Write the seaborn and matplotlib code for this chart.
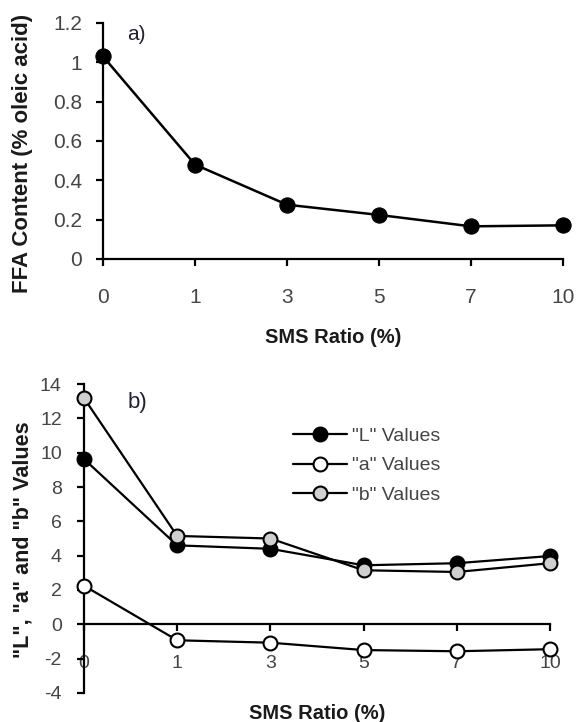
import matplotlib
matplotlib.use("Agg")
import matplotlib.pyplot as plt
import seaborn as sns
import pandas as pd

# SMS ratio categories (equally spaced on the axis)
sms_ratio = ["0", "1", "3", "5", "7", "10"]

# a) free fatty acid content
ffa_content = [1.03, 0.48, 0.276, 0.224, 0.166, 0.171]

# b) colour values
l_values = [9.63, 4.6, 4.4, 3.44, 3.56, 3.98]
a_values = [2.25, -0.93, -1.07, -1.5, -1.57, -1.45]
b_values = [13.18, 5.15, 5.0, 3.15, 3.05, 3.56]

sns.set_theme(style="ticks")
plt.rcParams['font.family'] = ['Liberation Sans', 'DejaVu Sans']
plt.rcParams['axes.unicode_minus'] = False

tick_col = '#454545'
label_col = '#1a1a1a'

fig = plt.figure(figsize=(5.76, 7.22), dpi=100)
ax1 = fig.add_axes([0.1788, 0.6413, 0.7986, 0.3269])
ax2 = fig.add_axes([0.1458, 0.0402, 0.8090, 0.4279])

# ---- panel a ----
df_a = pd.DataFrame({"ratio": sms_ratio, "ffa": ffa_content})
sns.lineplot(data=df_a, x="ratio", y="ffa", ax=ax1, color='black', lw=1.8,
             marker='o', markersize=11, markerfacecolor='black',
             markeredgecolor='black', clip_on=False, zorder=3)
ax1.set_xlim(0, 5)
ax1.set_ylim(0, 1.2)
ax1.set_yticks([0, 0.2, 0.4, 0.6, 0.8, 1.0, 1.2])
ax1.set_yticklabels(["0", "0.2", "0.4", "0.6", "0.8", "1", "1.2"])
ax1.tick_params(axis='x', direction='out', length=5, width=1.6, pad=16,
                labelsize=15, labelcolor=tick_col, color='black')
ax1.tick_params(axis='y', direction='out', length=5, width=1.6, pad=10,
                labelsize=15, labelcolor=tick_col, color='black')
for s in ['top', 'right']:
    ax1.spines[s].set_visible(False)
for s in ['left', 'bottom']:
    ax1.spines[s].set_linewidth(1.6)
    ax1.spines[s].set_color('black')
ax1.set_xlabel("SMS Ratio (%)", fontsize=14.5, fontweight='bold', color=label_col)
ax1.set_ylabel("FFA Content (% oleic acid)", fontsize=16, fontweight='bold', color=label_col)
ax1.xaxis.set_label_coords(0.5, -0.292)
ax1.yaxis.set_label_coords(-0.152, 0.449)
ax1.text(0.052, 0.95, "a)", transform=ax1.transAxes, fontsize=15,
         color='#202030', va='center', ha='left')

# ---- panel b ----
df_b = pd.DataFrame({"ratio": sms_ratio, "L": l_values, "a": a_values, "b": b_values})
series = [("L", '"L" Values', 'black'),
          ("a", '"a" Values', 'white'),
          ("b", '"b" Values', '#cfcfcf')]
for col, lab, fc in series:
    sns.lineplot(data=df_b, x="ratio", y=col, ax=ax2, color='black', lw=1.6,
                 marker='o', markersize=10, markerfacecolor=fc,
                 markeredgecolor='black', markeredgewidth=1.5,
                 label=lab, clip_on=False, zorder=3)
ax2.set_xlim(0, 5)
ax2.set_ylim(-4, 14)
ax2.set_yticks(range(-4, 15, 2))
ax2.spines['bottom'].set_position(('data', 0))
for s in ['top', 'right']:
    ax2.spines[s].set_visible(False)
for s in ['left', 'bottom']:
    ax2.spines[s].set_linewidth(1.6)
    ax2.spines[s].set_color('black')
ax2.tick_params(axis='x', direction='out', length=5, width=1.6, pad=17,
                labelsize=14, labelcolor=tick_col, color='black')
ax2.tick_params(axis='y', direction='out', length=5, width=1.6, pad=11,
                labelsize=14, labelcolor=tick_col, color='black')
ax2.set_xlabel("SMS Ratio (%)", fontsize=14.5, fontweight='bold', color=label_col)
ax2.set_ylabel('"L", "a" and "b" Values', fontsize=15.5, fontweight='bold', color=label_col)
ax2.xaxis.set_label_coords(0.5, -0.036)
ax2.yaxis.set_label_coords(-0.109, 0.495)
ax2.text(0.094, 0.94, "b)", transform=ax2.transAxes, fontsize=16,
         color='#202030', va='center', ha='left')
ax2.legend(loc='upper left', bbox_to_anchor=(0.448, 0.859), frameon=False,
           fontsize=14, handlelength=2.8, handletextpad=0.25, labelspacing=0.6,
           labelcolor=tick_col, borderaxespad=0, borderpad=0)

fig.savefig("out.png", dpi=100)
